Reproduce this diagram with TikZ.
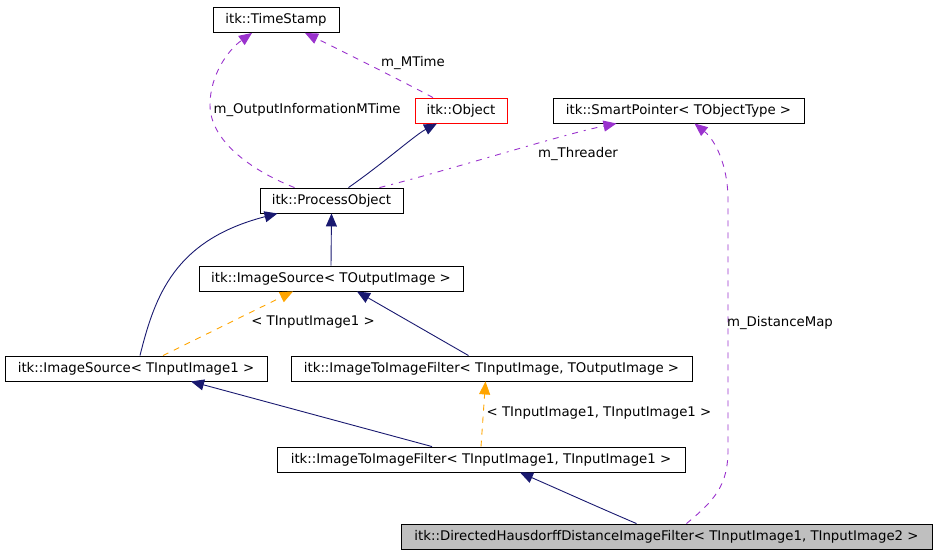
\documentclass[tikz,border=0pt]{standalone}
\usepackage{fontspec}
\setmainfont{DejaVu Sans}
\usetikzlibrary{arrows.meta}
\definecolor{navyc}{HTML}{191970}
\definecolor{purplec}{HTML}{9A32CD}
\definecolor{orangec}{HTML}{FFA500}
\definecolor{grayc}{HTML}{BFBFBF}
\begin{document}
\begin{tikzpicture}[x=1pt,y=-1pt,
  cls/.style={draw=black,line width=0.9pt,inner sep=0pt,minimum height=25pt,font=\fontsize{13.3}{15}\selectfont,anchor=center},
  lbl/.style={font=\fontsize{13.3}{15}\selectfont,inner sep=0pt},
  tip/.style={-{Triangle[length=13pt,width=11pt]}},
  inh/.style={draw=navyc,line width=0.9pt,tip},
  usage/.style={draw=purplec,line width=0.9pt,dash pattern=on 6pt off 6pt,tip},
  tmpl/.style={draw=orangec,line width=0.9pt,dash pattern=on 6pt off 6pt,tip}]
\useasboundingbox (0,0) rectangle (936,555);
\node[cls,minimum width=126pt] (ts) at (276,20) {itk::TimeStamp};
\node[cls,minimum width=92pt,draw=red] (obj) at (461,110.5) {itk::Object};
\node[cls,minimum width=251pt] (sp) at (678.5,110.5) {itk::SmartPointer< TObjectType >};
\node[cls,minimum width=143pt] (po) at (331.5,200.5) {itk::ProcessObject};
\node[cls,minimum width=264pt] (iso) at (331,278.5) {itk::ImageSource< TOutputImage >};
\node[cls,minimum width=262pt] (isi) at (136,368.5) {itk::ImageSource< TInputImage1 >};
\node[cls,minimum width=401pt] (itio) at (491.5,368.5) {itk::ImageToImageFilter< TInputImage, TOutputImage >};
\node[cls,minimum width=408pt] (itii) at (481,459.5) {itk::ImageToImageFilter< TInputImage1, TInputImage1 >};
\node[cls,minimum width=531pt,fill=grayc] (dh) at (666.5,536.5) {itk::DirectedHausdorffDistanceImageFilter< TInputImage1, TInputImage2 >};
% m_MTime
\draw[usage] ([xshift=-28pt]obj.north) .. controls (400,80) and (340,50) .. ([xshift=29pt]ts.south);
\node[lbl] (l1) at (413,63) {m\_MTime};
% m_OutputInformationMTime
\draw[usage] ([xshift=-37pt]po.north) .. controls (250,170) and (210,140) .. (210,105) .. controls (210,75) and (228,50) .. ([xshift=-24pt]ts.south);
\node[lbl] (l2) at (307,110) {m\_OutputInformationMTime};
% ProcessObject -> Object
\draw[inh] ([xshift=17pt]po.north) .. controls (385,162) and (415,135) .. ([xshift=-24pt]obj.south);
% m_Threader
\draw[usage,dash pattern=on 6pt off 6pt on 2pt off 6pt] ([xshift=48pt]po.north) .. controls (450,170) and (560,135) .. ([xshift=-62pt]sp.south);
\node[lbl] (l3) at (578,154) {m\_Threader};
% ImageSource<TOut> -> ProcessObject
\draw[inh] (iso.north) -- (po.south);
% ImageSource<TIn1> -> ProcessObject
\draw[inh] ([xshift=4pt]isi.north) .. controls (155,295) and (175,240) .. ([xshift=-54pt]po.south);
% ImageSource<TIn1> -> ImageSource<TOut>
\draw[tmpl] ([xshift=27pt]isi.north) -- ([xshift=-38pt]iso.south);
\node[lbl] (l4) at (313,322) {< TInputImage1 >};
% ITIF<TI,TO> -> ImageSource<TOut>
\draw[inh] ([xshift=-23pt]itio.north) -- ([xshift=26pt]iso.south);
% ITIF<TI1,TI1> -> ImageSource<TIn1>
\draw[inh] ([xshift=-49pt]itii.north) -- ([xshift=55pt]isi.south);
% ITIF<TI1,TI1> -> ITIF<TI,TO>
\draw[tmpl] (itii.north) -- ([xshift=-6pt]itio.south);
\node[lbl] (l5) at (599,413) {< TInputImage1, TInputImage1 >};
% DH -> ITIF<TI1,TI1>
\draw[inh] ([xshift=-30pt]dh.north) .. controls (600,508) and (560,490) .. ([xshift=39pt]itii.south);
% m_DistanceMap
\draw[usage] ([xshift=20pt]dh.north) .. controls (715,500) and (728,485) .. (728,450) -- (728,200) .. controls (728,165) and (715,140) .. ([xshift=16pt]sp.south);
\node[lbl] (l6) at (780,323) {m\_DistanceMap};
\end{tikzpicture}
\end{document}
